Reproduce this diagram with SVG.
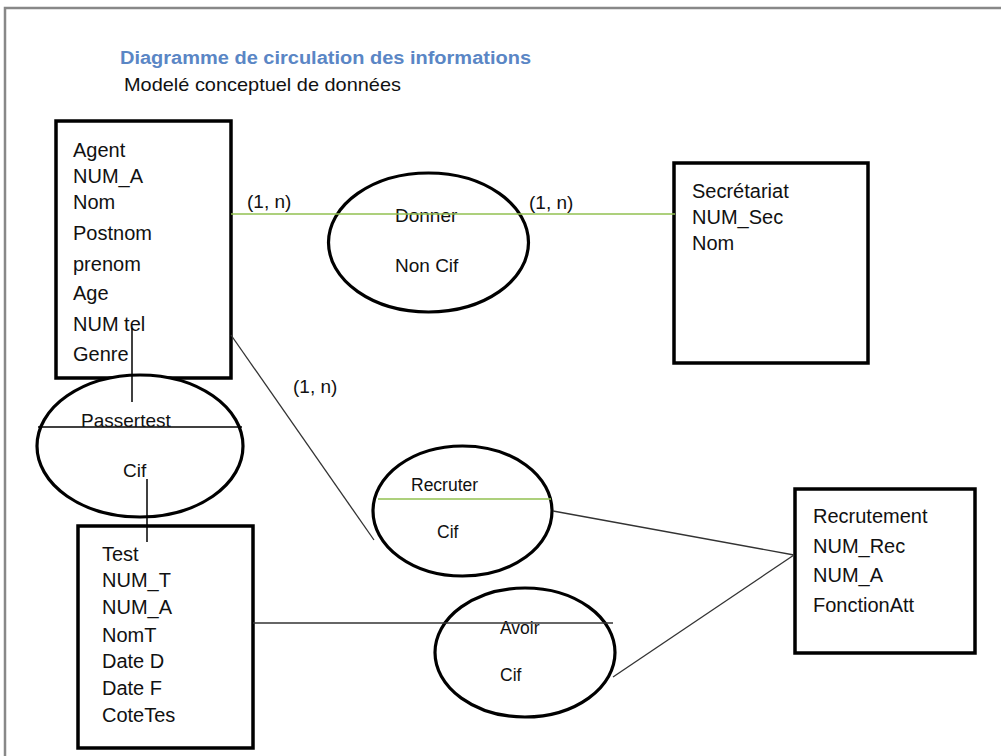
<svg xmlns="http://www.w3.org/2000/svg" width="1001" height="756" viewBox="0 0 1001 756">
<style>
.box{fill:#fff;stroke:#000;stroke-width:3.5}
.ell{fill:#fff;stroke:#000;stroke-width:3.2}
.t{font-family:"Liberation Sans",Arial,sans-serif;font-size:20px;fill:#111}
.te{font-family:"Liberation Sans",Arial,sans-serif;font-size:19px;fill:#111}
.ts{font-family:"Liberation Sans",Arial,sans-serif;font-size:17.5px;fill:#111}
.card{font-family:"Liberation Sans",Arial,sans-serif;font-size:19px;fill:#111}
.ln{stroke:#333;stroke-width:1.3;fill:none}
.lb{stroke:#000;stroke-width:1.5;fill:none}
.lg{stroke:#92c050;stroke-width:1.6;fill:none}
</style>
<rect width="1001" height="756" fill="#fff"/>
<path d="M5,756 V8 H1001" fill="none" stroke="#888" stroke-width="2.5"/>
<g id="titre">
<text x="120" y="64" font-family="Liberation Sans,Arial,sans-serif" font-size="18" font-weight="bold" fill="#5a86c5" textLength="411" lengthAdjust="spacingAndGlyphs">Diagramme de circulation des informations</text>
<text x="124" y="91" font-family="Liberation Sans,Arial,sans-serif" font-size="19" fill="#111" textLength="277" lengthAdjust="spacingAndGlyphs">Modelé conceptuel de données</text>
</g>
<g id="agent">
<rect class="box" x="56" y="121" width="175" height="257"/>
<text class="t" x="73" y="157">Agent</text>
<text class="t" x="73" y="183">NUM_A</text>
<text class="t" x="73" y="209">Nom</text>
<text class="t" x="73" y="240">Postnom</text>
<text class="t" x="73" y="271">prenom</text>
<text class="t" x="73" y="300">Age</text>
<text class="t" x="73" y="331">NUM tel</text>
<text class="t" x="73" y="361">Genre</text>
</g>
<g id="secretariat">
<rect class="box" x="674" y="163" width="194" height="200"/>
<text class="t" x="692" y="198">Secrétariat</text>
<text class="t" x="692" y="224">NUM_Sec</text>
<text class="t" x="692" y="250">Nom</text>
</g>
<g id="donner">
<ellipse class="ell" cx="428.5" cy="242.5" rx="100" ry="69.5"/>
<text class="te" x="395" y="222">Donner</text>
<text class="te" x="395" y="272">Non Cif</text>
</g>
<g id="passertest">
<ellipse class="ell" cx="140" cy="446" rx="103" ry="71"/>
<line class="lb" x1="38" y1="427" x2="242" y2="427"/>
<text class="te" x="81" y="427">Passertest</text>
<text class="te" x="123" y="477">Cif</text>
</g>
<g id="test">
<rect class="box" x="78" y="526" width="175" height="222"/>
<text class="t" x="102" y="561">Test</text>
<text class="t" x="102" y="587">NUM_T</text>
<text class="t" x="102" y="614">NUM_A</text>
<text class="t" x="102" y="642">NomT</text>
<text class="t" x="102" y="668">Date D</text>
<text class="t" x="102" y="695">Date F</text>
<text class="t" x="102" y="722">CoteTes</text>
</g>
<g id="recruter">
<ellipse class="ell" cx="462.5" cy="511" rx="89.5" ry="65"/>
<line class="lg" x1="378" y1="499" x2="551" y2="499"/>
<text class="ts" x="411" y="491">Recruter</text>
<text class="ts" x="437" y="538">Cif</text>
</g>
<g id="avoir">
<ellipse class="ell" cx="525" cy="652.5" rx="90" ry="64.5"/>
<text class="ts" x="500" y="634">Avoir</text>
<text class="ts" x="500" y="681">Cif</text>
</g>
<g id="recrutement">
<rect class="box" x="795" y="489" width="180" height="164"/>
<text class="t" x="813" y="523">Recrutement</text>
<text class="t" x="813" y="553">NUM_Rec</text>
<text class="t" x="813" y="582">NUM_A</text>
<text class="t" x="813" y="612">FonctionAtt</text>
</g>
<g id="connecteurs">
<line class="lg" x1="231" y1="214" x2="675" y2="214"/>
<line class="lb" x1="132" y1="328" x2="132" y2="402"/>
<line class="lb" x1="147" y1="479" x2="147" y2="542"/>
<line class="ln" x1="231" y1="335" x2="374" y2="540"/>
<line class="ln" x1="553" y1="511" x2="794" y2="555"/>
<line class="ln" x1="253" y1="623" x2="613" y2="623"/>
<line class="ln" x1="613" y1="677" x2="794" y2="555"/>
<text class="card" x="247" y="208">(1, n)</text>
<text class="card" x="529" y="209">(1, n)</text>
<text class="card" x="293" y="393">(1, n)</text>
</g>
</svg>
